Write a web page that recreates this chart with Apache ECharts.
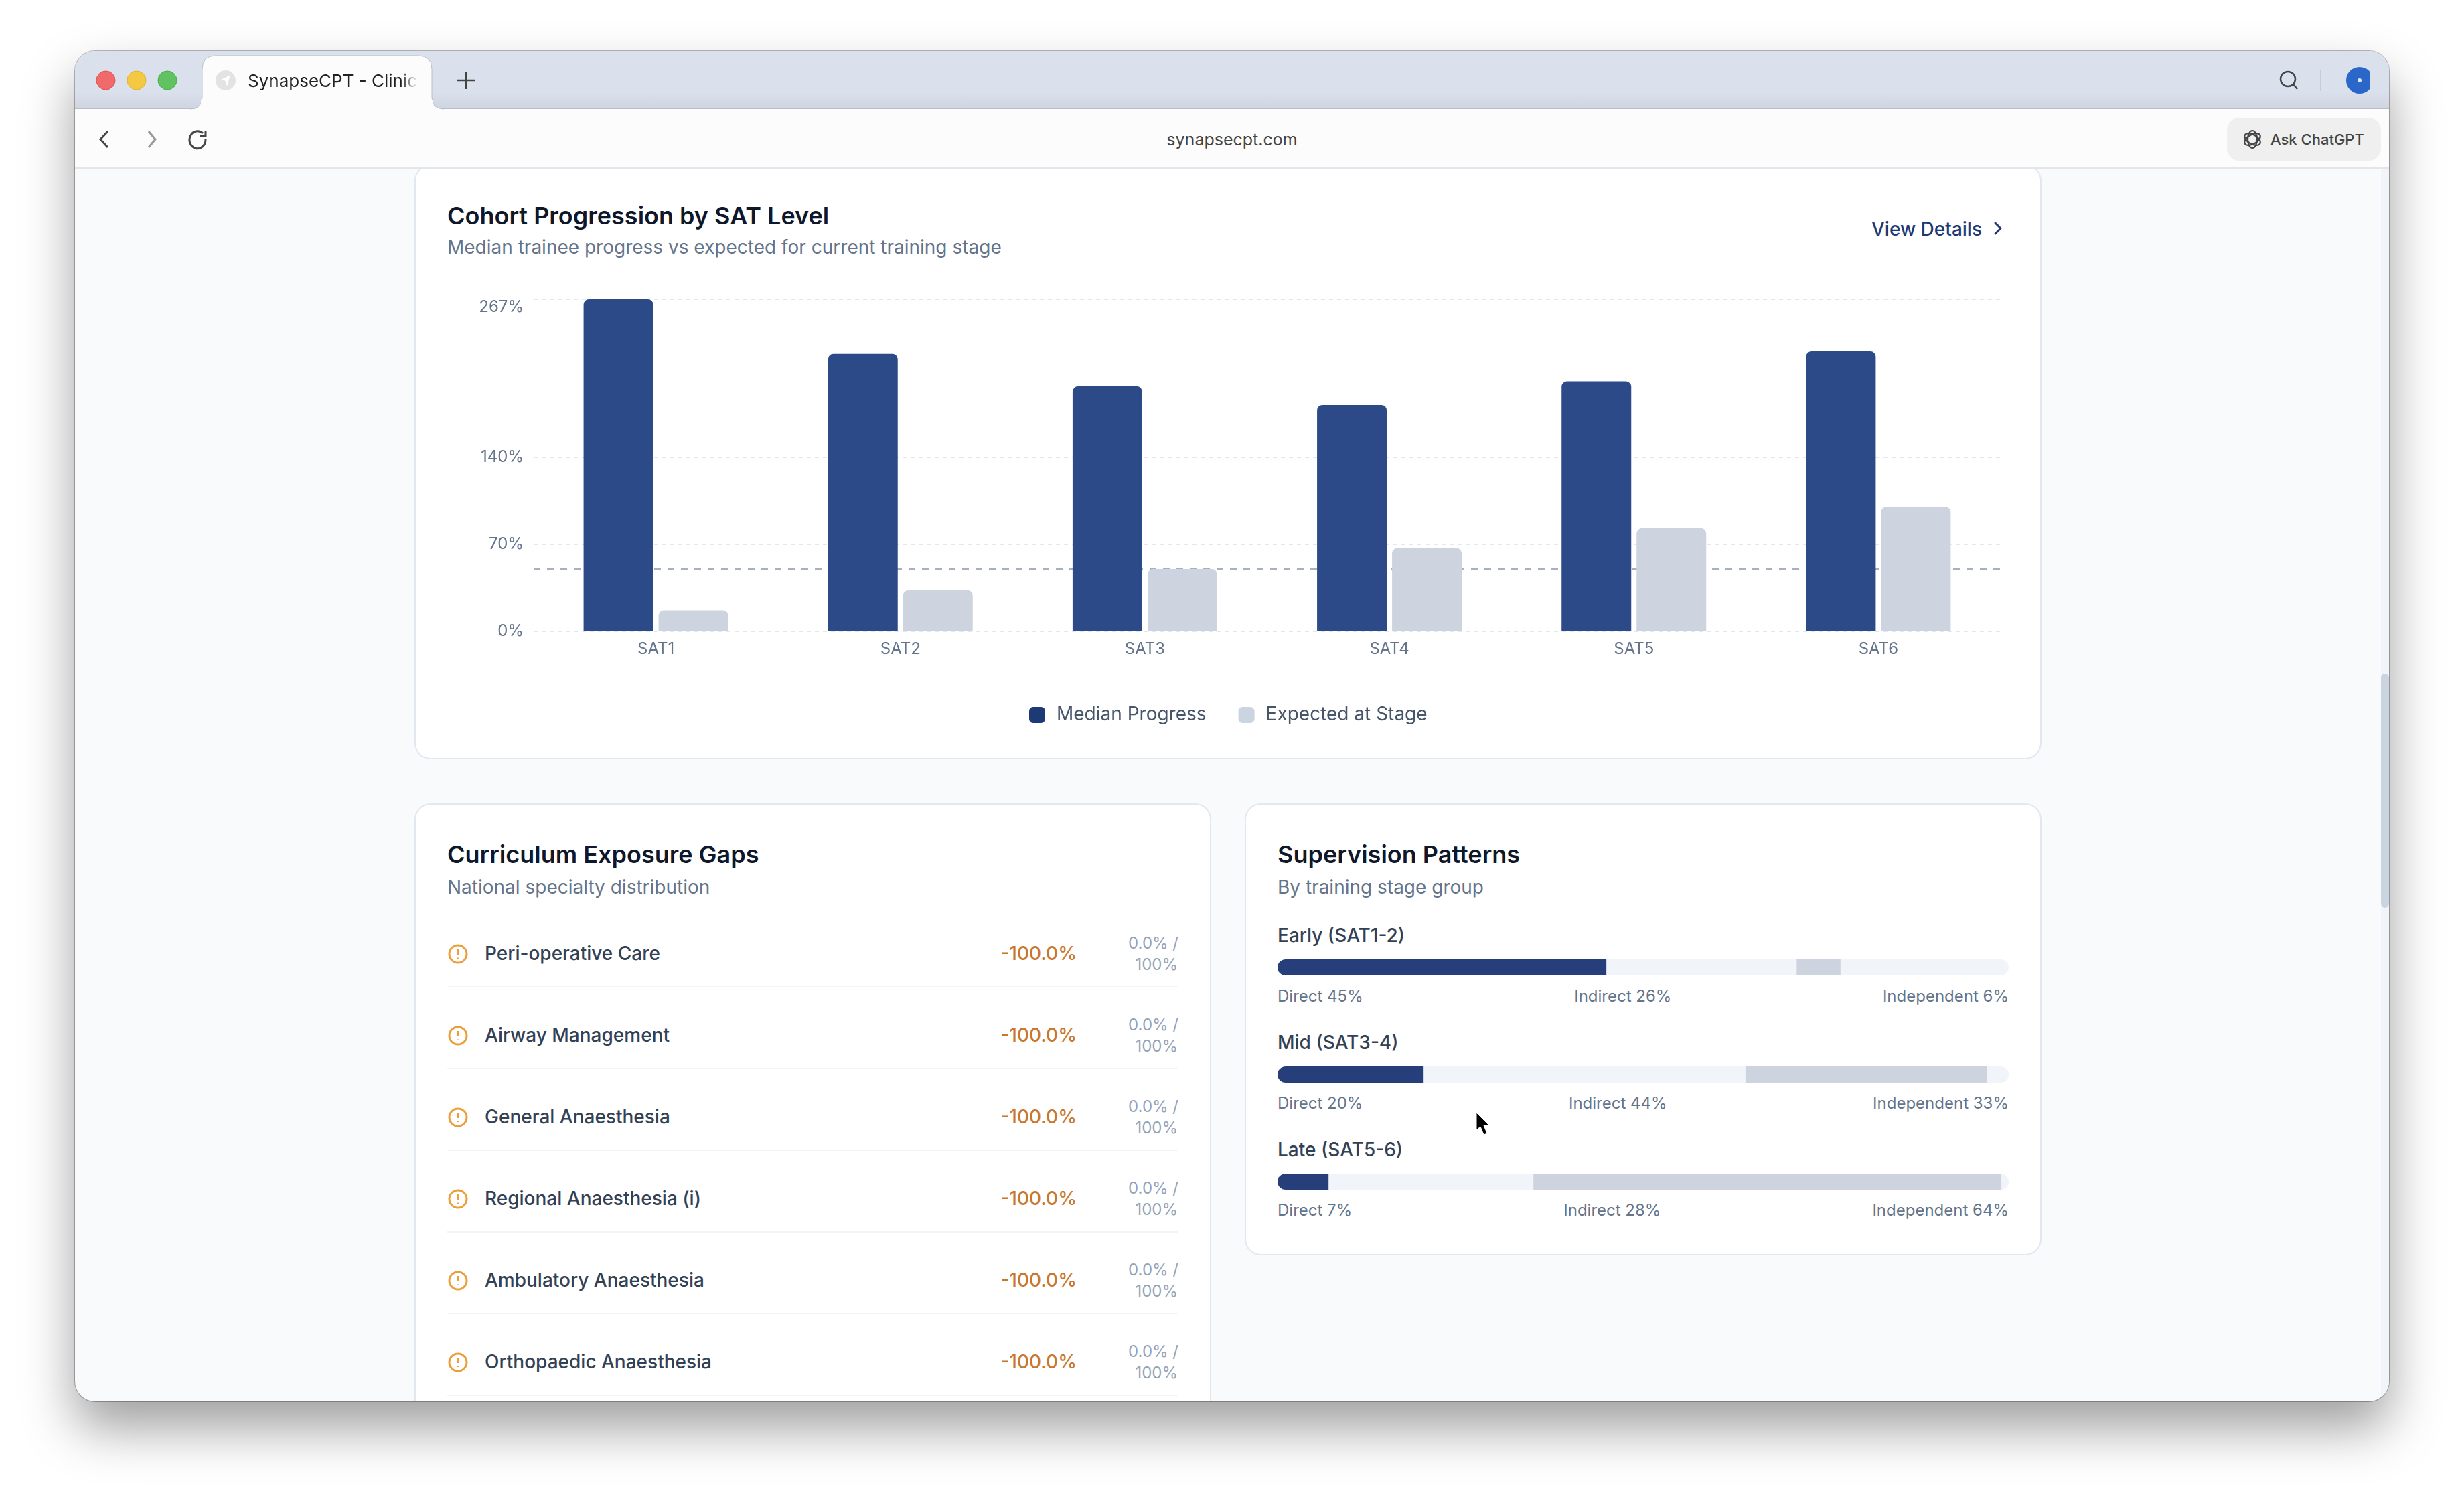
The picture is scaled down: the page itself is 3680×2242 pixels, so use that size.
<!DOCTYPE html>
<html>
<head>
<meta charset="UTF-8">
<title>SynapseCPT - Clinical</title>
<script src="https://cdn.jsdelivr.net/npm/echarts@6/dist/echarts.min.js"></script>
<style>
    html, body { margin: 0; width: 3680px; height: 2242px; background: #fff; overflow: hidden; font-family: Inter, "Noto Sans", sans-serif; }
    div, svg { position: absolute; box-sizing: border-box; }
    .txt { white-space: nowrap; line-height: 1; }
    #win { left: 112px; top: 76px; width: 3456px; height: 2017px; border-radius: 30px; background: #f8fafc; box-shadow: 0 40px 78px rgba(0,0,0,.38), 0 0 0 1px rgba(0,0,0,.28); }
    #content { left: 0; top: 0; width: 3680px; height: 2242px; clip-path: inset(252px 112px 149px 112px round 0 0 30px 30px); }
    #gaps, #patterns { left: 0; top: 0; width: 3680px; height: 2242px; }
    .card { background: #fff; border: 2px solid #e2e8f0; border-radius: 24px; }
    .title { font-size: 36px; font-weight: 600; color: #0f172a; }
    .sub { font-size: 28px; color: #64748b; }
    #chart { left: 0; top: 0; width: 3680px; height: 2242px; }
</style>
</head>
<body>
<div id="win"></div>
<div id="content">
    <div class="card" style="left:619px;top:246px;width:2430px;height:888px"></div>
    <div class="card" style="left:619px;top:1200px;width:1190px;height:1100px"></div>
    <div class="card" style="left:1859px;top:1200px;width:1190px;height:675px"></div>
    <div class="txt title" style="left:668px;top:304px">Cohort Progression by SAT Level</div>
    <div class="txt sub" style="left:668px;top:355px">Median trainee progress vs expected for current training stage</div>
    <div class="txt" style="right:720px;top:328px;font-size:28px;font-weight:500;color:#1e3a75">View Details</div>
    <svg style="left:2972px;top:326px" width="24" height="30" viewBox="0 0 24 30"><path d="M8 7 L16 15 L8 23" fill="none" stroke="#1e3a75" stroke-width="3" stroke-linecap="round" stroke-linejoin="round"/></svg>
    <div class="txt title" style="left:668px;top:1258px">Curriculum Exposure Gaps</div>
    <div class="txt sub" style="left:668px;top:1311px">National specialty distribution</div>
    <div class="txt title" style="left:1908px;top:1258px">Supervision Patterns</div>
    <div class="txt sub" style="left:1908px;top:1311px">By training stage group</div>
    <div id="gaps"></div>
    <div id="patterns"></div>
    <div style="left:3556px;top:252px;width:12px;height:1842px;background:#f1f5f9"></div>
    <div style="left:3556px;top:1006px;width:12px;height:350px;background:#cbd5e1;border-radius:6px"></div>
</div>

<!-- browser chrome -->
<div style="left:112px;top:76px;width:3456px;height:87px;border-radius:30px 30px 0 0;background:linear-gradient(#dae1ec 70%,#ced5e1)"></div>
<div style="left:112px;top:162px;width:3456px;height:90px;background:#fcfcfc;border-top:1px solid #b8bec9;border-bottom:2px solid #e2e5ea"></div>
<svg style="left:0;top:0" width="800" height="250">
    <path d="M284 163 Q302 163 302 145 L302 103 Q302 83 322 83 L625 83 Q645 83 645 103 L645 145 Q645 163 663 163" fill="#fcfcfc" stroke="#b8bec9" stroke-width="1"/>
    <rect x="300" y="150" width="347" height="16" fill="#fcfcfc"/>
    <circle cx="158" cy="120" r="14" fill="#f06a6a" stroke="#e2504f"/>
    <circle cx="204" cy="120" r="14" fill="#f5c842" stroke="#e3b32f"/>
    <circle cx="250" cy="120" r="14" fill="#61c261" stroke="#4cae4c"/>
    <circle cx="337" cy="120" r="15" fill="#e3e3e3"/>
    <path d="M344 112 L330 119 L337 121 L339 129 Z" fill="#fff"/>
    <path d="M696 107 V133 M683 120 H709" stroke="#444" stroke-width="2.5" fill="none"/>
    <path d="M161 196 L150 208 L161 220" stroke="#444" stroke-width="3" fill="none"/>
    <path d="M222 196 L232 208 L222 220" stroke="#999" stroke-width="3" fill="none"/>
    <path d="M303 199 A12 13 0 1 0 307 208 M307 195 V203 H299" stroke="#444" stroke-width="3" fill="none"/>
</svg>
<div class="txt" style="left:370px;top:107px;width:254px;overflow:hidden;font-size:26px;line-height:28px;color:#222;-webkit-mask-image:linear-gradient(90deg,#000 90%,transparent)">SynapseCPT - Clinical Dashboard</div>
<div class="txt" style="left:1640px;width:400px;text-align:center;top:196px;font-size:25px;color:#444">synapsecpt.com</div>
<div style="left:3326px;top:176px;width:230px;height:64px;background:#efefef;border-radius:18px"></div>
<div class="txt" style="left:3391px;top:197px;font-size:22px;font-weight:500;color:#444">Ask ChatGPT</div>
<svg style="left:3340px;top:184px" width="48" height="48" viewBox="0 0 48 48">
    <g fill="none" stroke="#444" stroke-width="2.2">
        <ellipse cx="24" cy="24" rx="7" ry="13"/>
        <ellipse cx="24" cy="24" rx="7" ry="13" transform="rotate(60 24 24)"/>
        <ellipse cx="24" cy="24" rx="7" ry="13" transform="rotate(120 24 24)"/>
    </g>
</svg>
<svg style="left:3400px;top:100px" width="140" height="40" viewBox="0 0 140 40">
    <circle cx="17" cy="18" r="11" fill="none" stroke="#444" stroke-width="2.5"/>
    <path d="M25 26 L31 33" stroke="#444" stroke-width="2.5"/>
    <path d="M66 4 V36" stroke="#c6ccd6" stroke-width="2"/>
    <circle cx="124" cy="20" r="20" fill="#2b67c9"/>
    <circle cx="124" cy="20" r="3" fill="#dfe8f7"/>
</svg>

<div id="chart"></div>
<svg style="left:2200px;top:1658px" width="34" height="44" viewBox="0 0 34 44">
    <path d="M5 4 L5 30 L11 25 L16 37 L21 35 L16 23 L24 23 Z" fill="#000" stroke="#fff" stroke-width="1"/>
</svg>

<script>
    // main chart values
    var satLevels = ['SAT1', 'SAT2', 'SAT3', 'SAT4', 'SAT5', 'SAT6'];
    var medianProgress = [267, 223, 197, 182, 201, 225];
    var expectedAtStage = [17, 33, 50, 67, 83, 100];
    var yTicks = [0, 70, 140, 267];
    var targetLine = 50;

    // supervision shares per stage group
    var stageGroups = ['Early (SAT1-2)', 'Mid (SAT3-4)', 'Late (SAT5-6)'];
    var directShare = [45, 20, 7];
    var indirectShare = [26, 44, 28];
    var independentShare = [6, 33, 64];

    // curriculum gap rows
    var gapNames = ['Peri-operative Care', 'Airway Management', 'General Anaesthesia', 'Regional Anaesthesia (i)', 'Ambulatory Anaesthesia', 'Orthopaedic Anaesthesia'];
    var gapDelta = ['-100.0%', '-100.0%', '-100.0%', '-100.0%', '-100.0%', '-100.0%'];
    var gapLocal = ['0.0%', '0.0%', '0.0%', '0.0%', '0.0%', '0.0%'];
    var gapNational = ['100%', '100%', '100%', '100%', '100%', '100%'];

    var gapsHtml = '';
    for (var i = 0; i < gapNames.length; i++) {
        var rowY = 1424 + i * 122;
        gapsHtml += '<svg style="left:668px;top:' + (rowY - 15) + 'px" width="32" height="32" viewBox="0 0 32 32">'
            + '<circle cx="16" cy="16" r="13" fill="none" stroke="#ea9f3a" stroke-width="3"/>'
            + '<path d="M16 9 V17 M16 21.5 V23" stroke="#ea9f3a" stroke-width="2.6"/></svg>'
            + '<div class="txt" style="left:724px;top:' + (rowY - 14) + 'px;font-size:28px;font-weight:500;color:#334155">' + gapNames[i] + '</div>'
            + '<div class="txt" style="right:2072px;top:' + (rowY - 14) + 'px;font-size:28px;font-weight:500;color:#c9772d">' + gapDelta[i] + '</div>'
            + '<div class="txt" style="right:1920px;top:' + (rowY - 27) + 'px;font-size:24px;color:#94a3b8">' + gapLocal[i] + ' /</div>'
            + '<div class="txt" style="right:1921px;top:' + (rowY + 5) + 'px;font-size:24px;color:#94a3b8">' + gapNational[i] + '</div>'
            + '<div style="left:668px;top:' + (rowY + 49) + 'px;width:1092px;height:2px;background:#f1f5f9"></div>';
    }
    document.getElementById('gaps').innerHTML = gapsHtml;

    var patternsHtml = '';
    for (var g = 0; g < stageGroups.length; g++) {
        var labelTop = 1383 + g * 160;
        patternsHtml += '<div class="txt" style="left:1908px;top:' + labelTop + 'px;font-size:28px;font-weight:500;color:#334155">' + stageGroups[g] + '</div>'
            + '<div style="left:1908px;top:' + (labelTop + 93) + 'px;width:1092px;display:flex;justify-content:space-between;font-size:24px;line-height:1;color:#64748b">'
            + '<span>Direct ' + directShare[g] + '%</span><span>Indirect ' + indirectShare[g] + '%</span><span>Independent ' + independentShare[g] + '%</span></div>';
    }
    document.getElementById('patterns').innerHTML = patternsHtml;

    var mycharts = echarts.init(document.getElementById('chart'));

    var grids = [{ left: 797, top: 447, width: 2191, height: 496 }];
    var xAxes = [{
        type: 'category', gridIndex: 0, data: satLevels,
        axisLine: { show: false }, axisTick: { show: false },
        axisLabel: { color: '#64748b', fontSize: 24, fontFamily: 'Inter', margin: 15 }
    }];
    var yAxes = [{
        type: 'value', gridIndex: 0, min: 0, max: 267,
        axisLine: { show: false },
        axisTick: { show: false, customValues: yTicks },
        axisLabel: {
            customValues: yTicks, color: '#64748b', fontSize: 24, fontFamily: 'Inter', margin: 15,
            verticalAlignMaxLabel: 'top',
            formatter: function (v) { return v + '%'; }
        },
        splitLine: { lineStyle: { color: '#e2e8f0', type: [6, 6], width: 2 } }
    }];
    var series = [
        {
            name: 'Median Progress', type: 'bar', xAxisIndex: 0, yAxisIndex: 0, data: medianProgress,
            barWidth: 104, barGap: '7.7%', z: 3,
            itemStyle: { color: '#2b4a87', borderRadius: [8, 8, 0, 0] },
            markLine: {
                silent: true, symbol: 'none', z: 1, label: { show: false },
                lineStyle: { color: '#8b96aa', type: [10, 10], width: 1.5 },
                data: [{ yAxis: targetLine }]
            }
        },
        {
            name: 'Expected at Stage', type: 'bar', xAxisIndex: 0, yAxisIndex: 0, data: expectedAtStage,
            barWidth: 104, z: 3,
            itemStyle: { color: '#cdd4df', borderRadius: [8, 8, 0, 0] }
        }
    ];

    // one small grid for each supervision bar
    for (var k = 0; k < stageGroups.length; k++) {
        var idx = k + 1;
        grids.push({ left: 1908, top: 1433 + k * 160, width: 1092, height: 24 });
        xAxes.push({ type: 'value', gridIndex: idx, min: 0, max: 100, show: false });
        yAxes.push({ type: 'category', gridIndex: idx, data: [stageGroups[k]], show: false });
        series.push({
            name: 'Direct', type: 'bar', stack: 'g' + k, xAxisIndex: idx, yAxisIndex: idx, barWidth: 24,
            data: [directShare[k]], showBackground: true,
            backgroundStyle: { color: '#f1f5f9', borderRadius: 12 },
            itemStyle: { color: '#263f7a', borderRadius: [12, 0, 0, 12] }
        });
        series.push({
            name: 'Indirect', type: 'bar', stack: 'g' + k, xAxisIndex: idx, yAxisIndex: idx, barWidth: 24,
            data: [indirectShare[k]], itemStyle: { color: '#f1f5f9' }
        });
        series.push({
            name: 'Independent', type: 'bar', stack: 'g' + k, xAxisIndex: idx, yAxisIndex: idx, barWidth: 24,
            data: [independentShare[k]], itemStyle: { color: '#cdd4df' }
        });
    }

    mycharts.setOption({
        animation: false,
        backgroundColor: 'transparent',
        legend: {
            left: 1537, top: 1054, padding: 0, itemWidth: 24, itemHeight: 24, itemGap: 48,
            icon: 'path://M6 0H18A6 6 0 0 1 24 6V18A6 6 0 0 1 18 24H6A6 6 0 0 1 0 18V6A6 6 0 0 1 6 0Z',
            textStyle: { color: '#475569', fontSize: 28, fontFamily: 'Inter', padding: [0, 0, 0, 12] },
            data: [
                { name: 'Median Progress', itemStyle: { color: '#1e3a75' } },
                { name: 'Expected at Stage', itemStyle: { color: '#cbd5e1' } }
            ]
        },
        grid: grids,
        xAxis: xAxes,
        yAxis: yAxes,
        series: series
    });
</script>
</body>
</html>
